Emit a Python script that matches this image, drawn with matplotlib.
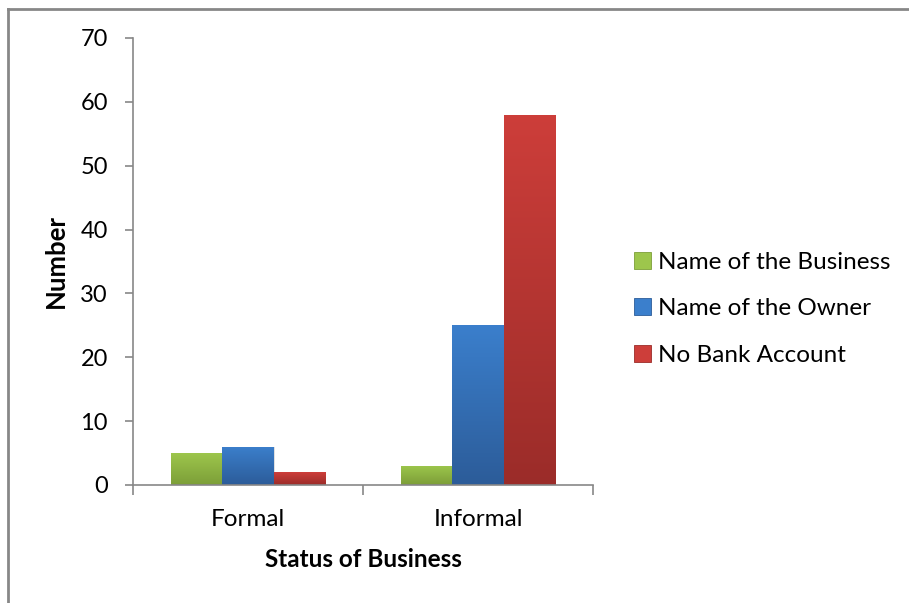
import numpy as np
import matplotlib
matplotlib.use("Agg")
import matplotlib.pyplot as plt
from matplotlib.colors import LinearSegmentedColormap
from matplotlib.lines import Line2D
from matplotlib.patches import Patch

plt.rcParams['font.family'] = ['Lato', 'DejaVu Sans']

categories = ['Formal', 'Informal']
series = ['Name of the Business', 'Name of the Owner', 'No Bank Account']
name_of_business = [5, 3]
name_of_owner = [6, 25]
no_bank_account = [2, 58]
y_ticks = [0, 10, 20, 30, 40, 50, 60, 70]

values = [name_of_business, name_of_owner, no_bank_account]
# (top, bottom) of each bar's gradient
shades = [('#9dc64c', '#7c9e38'), ('#3b7fcc', '#2c5c99'), ('#cd3e3a', '#9b2c29')]

fig = plt.figure(figsize=(9.09, 6.03), dpi=100)
ax = fig.add_axes([0.1463, 0.1957, 0.5061, 0.7413])

x = np.arange(len(categories))
width = 0.222
grad = np.linspace(0, 1, 256).reshape(-1, 1)

for i, (vals, (top, bottom)) in enumerate(zip(values, shades)):
    cmap = LinearSegmentedColormap.from_list('g%d' % i, [bottom, top])
    bars = ax.bar(x + (i - 1) * width, vals, width, color=top,
                  edgecolor='none', zorder=2)
    for b in bars:
        x0, y0 = b.get_x(), b.get_y()
        w, h = b.get_width(), b.get_height()
        # soft shadow to the right of the bar
        ax.bar(x0 + w / 2 + 0.008, h, w, bottom=y0, color='#000000',
               alpha=0.12, edgecolor='none', zorder=1.5)
        im = ax.imshow(grad, extent=[x0, x0 + w, y0, y0 + h], origin='lower',
                       aspect='auto', cmap=cmap, zorder=2.5)
        im.set_clip_path(b)
        b.set_facecolor('none')

ax.set_xlim(-0.5, 1.5)
ax.set_ylim(0, 70)
ax.set_yticks(y_ticks)
ax.set_xticks(x)
ax.set_xticklabels(categories)
ax.set_xticks([-0.5, 0.5, 1.5], minor=True)

for s in ['top', 'right']:
    ax.spines[s].set_visible(False)
for s in ['left', 'bottom']:
    ax.spines[s].set_color('#878787')
    ax.spines[s].set_linewidth(1.2)

ax.tick_params(axis='y', direction='out', length=6, width=1.2, color='#878787',
               labelsize=17, pad=12)
ax.tick_params(axis='x', which='major', length=0, labelsize=17.5, pad=17)
ax.tick_params(axis='x', which='minor', direction='out', length=7, width=1.2,
               color='#878787')

ax.set_xlabel('Status of Business', fontsize=17.5, fontweight='bold', labelpad=13)
ax.set_ylabel('Number', fontsize=18.5, fontweight='bold', labelpad=9)

handles = [Patch(facecolor=t, edgecolor=b, linewidth=0.6) for t, b in shades]
leg = fig.legend(handles, series, loc='center left', bbox_to_anchor=(0.698, 0.488),
                 frameon=False, fontsize=17.5, handlelength=0.7, handleheight=0.7,
                 handletextpad=0.25, labelspacing=1.04, borderaxespad=0,
                 borderpad=0)

# chart frame
fig.add_artist(Line2D([8 / 909, 1.0], [1 - 9 / 603, 1 - 9 / 603],
                      color='#878787', linewidth=2, transform=fig.transFigure))
fig.add_artist(Line2D([8 / 909, 8 / 909], [0.0, 1 - 9 / 603],
                      color='#878787', linewidth=2, transform=fig.transFigure))

fig.savefig('out.png', dpi=100)
